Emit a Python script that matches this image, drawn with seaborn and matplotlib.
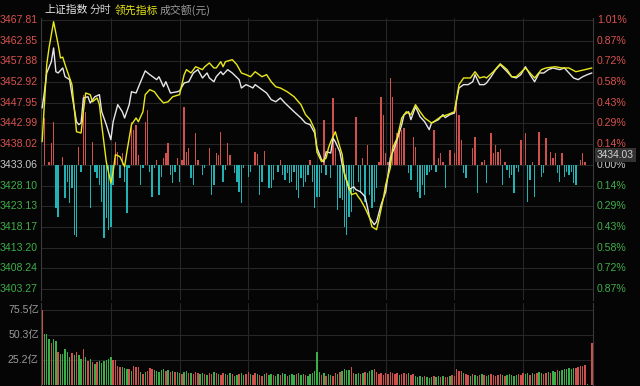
import matplotlib
matplotlib.use("Agg")
import matplotlib.pyplot as plt
import matplotlib.transforms as mtransforms
import seaborn as sns

PREV_CLOSE = 3433.06

# 上证指数 (white line): minute index, price
idx_min = [0, 1, 2, 4, 5, 6, 7, 9, 10, 12, 13, 15, 16, 17, 18, 20, 21, 23, 25, 26,
           28, 30, 31, 33, 35, 36, 38, 39, 41, 43, 45, 47, 50, 51, 53, 54, 56, 59, 60, 62,
           64, 66, 68, 70, 72, 73, 75, 76, 78, 79, 81, 83, 86, 87, 89, 91, 92, 93, 96, 98,
           100, 102, 104, 106, 110, 113, 115, 117, 119, 120, 122, 123, 124, 126, 127, 128, 130, 131, 133, 134,
           136, 137, 139, 141, 142, 143, 145, 146, 148, 150, 151, 152, 154, 155, 157, 158, 160, 161, 163, 164,
           165, 167, 169, 170, 173, 175, 176, 178, 180, 181, 182, 184, 186, 188, 189, 191, 193, 194, 196, 198,
           200, 203, 205, 207, 209, 211, 213, 215, 217, 219, 221, 223, 226, 228, 230, 232, 234, 236, 238, 240]
idx_val = [3446.7, 3450.6, 3455.1, 3457.8, 3461.1, 3455.4, 3455.1, 3456.3, 3454.2, 3453.5,
           3449.9, 3443.4, 3442.7, 3443.1, 3449.1, 3449.4, 3447.9, 3449.4, 3449.9, 3445.8,
           3442.7, 3439.1, 3443.4, 3447.5, 3445.8, 3444.3, 3447.5, 3450.6, 3450.3, 3453.0,
           3455.6, 3454.7, 3453.5, 3454.2, 3451.8, 3453.0, 3450.3, 3450.6, 3450.8, 3452.7,
           3453.0, 3455.1, 3455.9, 3453.9, 3455.1, 3453.9, 3453.0, 3454.2, 3455.4, 3454.7,
           3455.9, 3455.1, 3453.5, 3451.5, 3452.3, 3451.8, 3451.5, 3452.3, 3451.1, 3450.3,
           3448.7, 3448.2, 3449.1, 3447.9, 3445.8, 3444.3, 3443.1, 3442.7, 3440.7, 3437.1,
           3434.3, 3433.8, 3436.2, 3435.9, 3439.5, 3438.6, 3436.2, 3433.1, 3429.0, 3427.1,
           3427.8, 3427.1, 3426.6, 3425.4, 3423.0, 3420.3, 3418.7, 3419.4, 3423.5, 3426.6,
           3430.7, 3434.7, 3437.4, 3439.1, 3442.7, 3445.1, 3445.8, 3443.9, 3447.0, 3445.8,
           3444.6, 3443.4, 3441.5, 3443.1, 3443.9, 3445.1, 3444.4, 3445.1, 3445.5, 3448.7,
           3451.5, 3452.3, 3452.3, 3453.0, 3454.7, 3452.3, 3452.3, 3452.7, 3454.2, 3455.9,
           3457.1, 3455.4, 3454.2, 3453.9, 3454.7, 3456.6, 3454.7, 3453.0, 3455.1, 3455.1,
           3455.9, 3456.3, 3455.9, 3456.3, 3455.1, 3453.9, 3453.5, 3454.2, 3454.7, 3455.1]

# 领先指标 (yellow line)
lead_min = [0, 2, 3, 5, 7, 8, 9, 10, 13, 14, 15, 17, 18, 19, 21, 22, 24, 25, 26, 28,
            30, 31, 32, 34, 36, 37, 39, 41, 42, 44, 45, 47, 49, 51, 53, 55, 57, 60, 62, 63,
            65, 67, 70, 71, 73, 75, 76, 78, 79, 80, 83, 85, 87, 89, 91, 93, 96, 98, 100, 102,
            104, 107, 110, 113, 115, 117, 119, 120, 122, 124, 125, 126, 128, 129, 131, 132, 134, 135, 137, 138,
            139, 141, 143, 144, 146, 147, 149, 150, 152, 153, 155, 157, 159, 161, 163, 165, 167, 170, 171, 174,
            177, 180, 181, 182, 184, 187, 189, 191, 193, 194, 197, 200, 203, 205, 207, 211, 213, 215, 218, 220,
            224, 227, 230, 233, 237, 240]
lead_val = [3438.6, 3457.1, 3461.1, 3467.4, 3461.9, 3458.7, 3458.9, 3457.1, 3452.3, 3446.7,
            3441.0, 3440.7, 3445.8, 3450.3, 3449.9, 3448.2, 3449.1, 3447.5, 3442.7, 3433.8,
            3428.7, 3431.4, 3435.5, 3435.0, 3432.6, 3436.2, 3442.7, 3444.3, 3443.4, 3445.8,
            3449.9, 3451.1, 3450.6, 3449.1, 3447.9, 3448.2, 3449.4, 3449.9, 3454.7, 3455.9,
            3455.1, 3456.6, 3455.9, 3456.6, 3457.5, 3456.3, 3456.3, 3457.8, 3456.6, 3457.8,
            3458.3, 3457.1, 3455.1, 3454.7, 3454.2, 3455.4, 3454.2, 3454.7, 3453.0, 3451.8,
            3451.5, 3450.6, 3449.4, 3447.5, 3445.1, 3443.9, 3441.5, 3436.1, 3433.8, 3434.7,
            3437.1, 3438.6, 3441.0, 3439.1, 3435.5, 3430.7, 3427.8, 3425.9, 3426.3, 3425.4,
            3424.7, 3422.7, 3420.3, 3418.2, 3417.5, 3419.9, 3425.1, 3428.3, 3432.3, 3437.1,
            3439.5, 3444.3, 3445.8, 3445.1, 3447.5, 3445.8, 3444.3, 3443.1, 3443.4, 3444.6,
            3445.1, 3445.8, 3449.1, 3452.3, 3453.9, 3453.9, 3455.4, 3453.9, 3454.2, 3453.9,
            3455.4, 3457.3, 3455.9, 3454.2, 3454.2, 3456.3, 3455.1, 3453.9, 3455.9, 3456.3,
            3456.6, 3456.3, 3456.3, 3455.4, 3455.9, 3456.3]

# red / cyan strength bars, drawn from the previous close
str_min = [1, 3, 4, 5, 6, 7, 9, 10, 11, 12, 13, 14, 15, 16, 17, 18, 19, 21, 22, 23,
           24, 25, 26, 27, 28, 29, 30, 31, 32, 33, 34, 35, 36, 37, 38, 39, 40, 41, 42, 43,
           44, 45, 46, 47, 48, 49, 50, 51, 52, 53, 54, 55, 56, 57, 58, 59, 60, 61, 62, 63,
           64, 65, 66, 67, 68, 70, 71, 73, 74, 75, 76, 77, 78, 79, 80, 81, 82, 84, 85, 86,
           87, 88, 90, 91, 93, 94, 95, 96, 97, 99, 100, 101, 103, 104, 105, 106, 107, 108, 109, 110,
           111, 112, 113, 114, 115, 116, 117, 118, 119, 120, 121, 122, 123, 124, 126, 127, 128, 129, 130, 131,
           132, 133, 134, 135, 136, 137, 138, 139, 140, 141, 142, 143, 144, 145, 146, 147, 148, 149, 150, 151,
           152, 153, 154, 155, 156, 157, 158, 160, 161, 162, 163, 164, 165, 166, 167, 168, 169, 170, 171, 172,
           173, 174, 175, 176, 178, 180, 181, 182, 183, 184, 185, 188, 189, 190, 192, 193, 194, 196, 197, 198,
           199, 200, 201, 202, 203, 204, 205, 206, 207, 208, 209, 211, 212, 213, 214, 215, 217, 218, 219, 220,
           222, 223, 224, 225, 226, 227, 228, 229, 230, 231, 232, 233, 235, 236, 237]
str_val = [11.3, 0.7, 5.3, 10.3, -10.3, -12.5, 1.9, -7.9, -4.1, -9.1, -5.5, -16.8, -17.3, 4.3, -1.7, 16.8, 12.7, -10.3, 5.5, -1.7,
           -3.1, -4.8, -8.9, -17.5, -12.7, -15.6, -14.9, -4.8, 5.5, 3.1, -3.1, 2.9, -4.1, -11.5, -0.7, 10.3, 8.4, 9.6, 2.4, -4.8,
           -0.7, 10.3, 13.2, -1.7, -7.7, -0.7, 1.2, -7.2, -2.9, 1.7, 2.9, 5.3, -2.4, -4.3, -1.7, 1.7, -4.1, 1.2, 13.9, 3.1,
           4.1, -3.1, -4.8, 7.7, 1.2, -2.4, -0.7, 4.1, -7.2, -4.8, 2.9, 2.4, 7.9, -4.1, -1.2, 5.3, 2.4, -1.9, -4.1, -6.5,
           -9.1, -0.7, -2.9, -1.7, 3.1, 2.6, -7.2, -4.1, 3.4, -5.5, -5.5, -3.6, -1.7, 1.2, -2.4, -3.6, -1.9, -4.3, -4.1, -1.7,
           -6.0, -7.9, -3.1, -5.3, -4.1, -2.4, 1.2, -4.1, -10.3, -7.7, -7.7, -1.9, 10.8, -2.4, -3.1, 16.1, 4.1, -10.8, -7.9, -8.4,
           -14.9, -16.8, -12.5, -11.3, -6.5, 11.5, -4.1, -6.7, 1.7, -8.9, 4.8, -7.2, -10.3, -8.9, -5.5, 0.7, 16.3, 12.0, 2.9, 0.7,
           20.9, 16.3, 4.8, 7.7, 8.4, 8.4, 8.9, -1.9, -3.6, 6.7, 4.3, -6.5, -7.9, -4.8, -7.2, -2.4, -1.7, -1.2, 8.4, -1.7,
           1.7, 2.9, 0.7, -5.5, 3.6, 2.9, 16.1, 12.0, 6.0, -1.9, -3.1, 4.1, 6.7, -6.7, 0.7, 1.2, -4.3, 7.7, 2.9, 4.8,
           3.1, 3.8, -4.8, 0.7, -1.2, -3.1, -2.4, -6.7, -0.7, -1.7, 6.0, 7.7, -8.9, -3.6, 0.7, -7.7, 7.9, -2.9, -1.9, 6.5,
           3.1, 1.7, 2.9, -1.9, -4.1, 2.9, -2.9, -1.7, -2.4, -1.7, -4.3, -4.8, 1.2, 2.9, 0.7]

# 成交额 per minute (亿元), minute 0..240
volume = [76, 51.7, 51.7, 47, 43, 47, 45, 33, 31, 31,
          36, 33, 28, 32, 30, 33, 30, 26, 36, 28,
          24.5, 26, 23, 21, 23, 24, 22, 24, 25, 26,
          28, 25, 25, 19, 18, 18, 17, 16, 16, 14,
          19, 18, 18, 13, 11, 13, 14, 17, 16, 15,
          14, 13, 15, 16, 14, 15, 13, 14, 13, 13,
          12, 11, 13, 14, 12, 12, 11, 13, 12, 11,
          12, 11, 10, 12, 11, 13, 12, 11, 10, 12,
          11, 10, 12, 11, 9, 10, 11, 12, 10, 11,
          13, 11, 10, 12, 11, 10, 9, 11, 12, 10,
          11, 10, 9, 11, 10, 12, 11, 9, 10, 11,
          10, 11, 12, 10, 11, 10, 9, 11, 12, 14,
          33, 13, 10, 12, 9, 11, 10, 9, 12, 11,
          13, 14, 16, 15, 15, 18, 12, 11, 12, 11,
          12, 13, 12, 14, 15, 16, 13, 11, 12, 10,
          12, 11, 13, 12, 11, 12, 10, 11, 12, 11,
          12, 10, 11, 9, 8, 9, 8, 9, 8, 7,
          8, 9, 8, 9, 8, 9, 8, 8, 9, 10,
          9, 16, 14, 14, 12, 11, 10, 9, 11, 10,
          9, 10, 11, 10, 9, 10, 11, 10, 9, 10,
          11, 10, 9, 10, 11, 10, 9, 10, 11, 10,
          12, 11, 12, 10, 12, 11, 12, 13, 12, 11,
          12, 13, 12, 14, 13, 15, 14, 15, 16, 16,
          17, 16, 17, 17, 18, 19, 19, 20, 1.5, 0,
          43]
# R = up minute (red), G = down minute (green)
vol_dir = ("RGGGRGGRGG" "GGGRGRGGRG" "RGRGRGGGGG" "GRRRRGGGRG" "RRRGRGRRRG"
           "GGGGRGRGRG" "GRGGRGRRRG" "GRGRRGRGRR" "GRGRGGRGGR" "RGRRGRRGRG"
           "GRGGRGGRGG" "GRGGGRGGGG" "GGRGRGGRRG" "RGGGGRRGGR" "GRGGGRRRRR"
           "RRRRRRGRRR" "GRRGGGGRGG" "GRGGRGRRGR" "RRRRGRRGRG" "GRGRGGRRRR"
           "RGRGGGGGRR" "RGGRGRRGGR" "RGRGGRGGGG" "GGGRRRRRGG" "R")

price_ticks = [3467.81, 3462.85, 3457.88, 3452.92, 3447.95, 3442.99, 3438.02,
               3433.06, 3428.10, 3423.13, 3418.17, 3413.20, 3408.24, 3403.27]
pct_labels = ["1.01%", "0.87%", "0.72%", "0.58%", "0.43%", "0.29%", "0.14%",
              "0.00%", "0.14%", "0.29%", "0.43%", "0.58%", "0.72%", "0.87%"]
vol_ticks = [25.2, 50.3, 75.5]
vol_labels = ["25.2亿", "50.3亿", "75.5亿"]
cursor_value = 3434.03

BG = "#050505"
GRID = "#262626"
RED = "#d0504c"
CYAN = "#22b2b4"
GREEN = "#3aae48"
TXT_RED = "#d9534f"
TXT_GREEN = "#3fae49"
TXT_GRAY = "#c8c8c8"

sns.set_theme(style="dark")
plt.rcParams['font.family'] = ['Liberation Sans', 'Noto Sans CJK SC']

W, H = 640, 386
fig = plt.figure(figsize=(6.4, 3.86), dpi=100, facecolor=BG)


def box(x0, y0, x1, y1):
    return [x0 / W, 1 - y1 / H, (x1 - x0) / W, (y1 - y0) / H]


ax = fig.add_axes(box(41, 18, 593, 300))
axv = fig.add_axes(box(41, 303, 593, 385))

for a in (ax, axv):
    a.set_facecolor(BG)
    a.set_xlim(-0.5, 240.5)
    a.set_xticks(range(30, 240, 30))
    a.grid(True, color=GRID, lw=0.8)
    a.tick_params(left=False, bottom=False, labelleft=False, labelbottom=False)
    for side in ("top", "bottom"):
        a.spines[side].set_visible(False)
    for side in ("left", "right"):
        a.spines[side].set_color("#3a3a3a")
        a.spines[side].set_linewidth(0.8)
    a.set_axisbelow(True)

# price panel
ax.set_ylim(3400.63, 3468.29)
ax.set_yticks(price_ticks)
bar_cols = [RED if v > 0 else CYAN for v in str_val]
ax.bar(str_min, str_val, bottom=PREV_CLOSE, width=0.6, color=bar_cols, linewidth=0, zorder=2)
sns.lineplot(x=idx_min, y=idx_val, ax=ax, color="#e6e6e6", lw=1.0, estimator=None, zorder=3)
sns.lineplot(x=lead_min, y=lead_val, ax=ax, color="#e8e81a", lw=1.0, estimator=None, zorder=4)
ax.set_xlabel("")
ax.set_ylabel("")

left_tr = mtransforms.blended_transform_factory(fig.transFigure, ax.transData)
for p, lab in zip(price_ticks, pct_labels):
    col = TXT_RED if p > PREV_CLOSE else (TXT_GRAY if p == PREV_CLOSE else TXT_GREEN)
    fig.text(38 / W, p, f"{p:.2f}", transform=left_tr, ha="right", va="center",
             color=col, fontsize=7.6)
    fig.text(597 / W, p, lab, transform=left_tr, ha="left", va="center",
             color=col, fontsize=7.6)

# cursor price box sits just above the 0.00% label on the right
fig.text(597 / W, 1 - 155 / H, f"{cursor_value:.2f}", ha="left", va="center",
         color="#d0d0d0", fontsize=7.4,
         bbox=dict(boxstyle="square,pad=0.18", facecolor="#333333", edgecolor="none"))

# volume panel
axv.set_ylim(0, 83)
axv.set_yticks(vol_ticks)
vol_cols = [RED if d == "R" else GREEN for d in vol_dir]
axv.bar(range(len(volume)), volume, width=0.62, color=vol_cols, linewidth=0, zorder=2)
vol_tr = mtransforms.blended_transform_factory(fig.transFigure, axv.transData)
for v, lab in zip(vol_ticks, vol_labels):
    fig.text(39 / W, v, lab, transform=vol_tr, ha="right", va="center",
             color="#9a9a9a", fontsize=7.6, family=['Liberation Sans', 'Noto Sans CJK SC'])

# header
cjk = ['Noto Sans CJK SC', 'DejaVu Sans']
hy = 1 - 10 / H
fig.text(44 / W, hy, "上证指数", color="#e6e6e6", fontsize=7.8, va="center", family=cjk)
fig.text(90 / W, hy, "分时", color="#cfcfcf", fontsize=7.8, va="center", family=cjk)
fig.text(115 / W, hy, "领先指标", color="#e8e81a", fontsize=7.8, va="center", family=cjk)
fig.text(160 / W, hy, "成交额(元)", color="#9a9a9a", fontsize=7.8, va="center", family=cjk)

fig.savefig("out.png", dpi=100, facecolor=BG)
